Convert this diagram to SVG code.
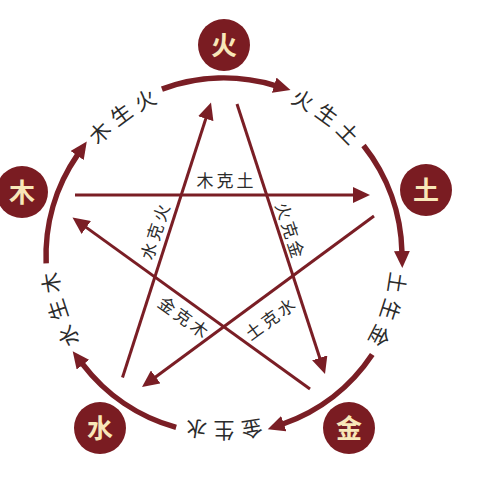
<svg xmlns="http://www.w3.org/2000/svg" width="480" height="480" viewBox="0 0 480 480">
<style>
.arc{fill:none;stroke:#7a1e25;stroke-width:5.5;marker-end:url(#ah)}
.ln{fill:none;stroke:#7a1e25;stroke-width:3;marker-end:url(#ah)}
.node circle{fill:#7a1c22}
.node text{fill:#f8e7b9;font-family:"Noto Sans CJK SC",sans-serif;font-size:26px;font-weight:700;text-anchor:middle}
.al{fill:#2b2b2b;font-family:"Noto Sans CJK SC",sans-serif;font-size:21px;text-anchor:middle}
.sl{fill:#2b2b2b;font-family:"Noto Sans CJK SC",sans-serif;font-size:17px;letter-spacing:3px;text-anchor:middle}
</style>
<defs>
<marker id="ah" markerUnits="userSpaceOnUse" markerWidth="18" markerHeight="16" viewBox="0 0 18 16" refX="1" refY="8" orient="auto">
<path d="M0,0 L17,8 L0,16 Z" fill="#7a1e25"/>
</marker>
</defs>
<rect width="480" height="480" fill="#ffffff"/>
<g id="connectors">
<path class="arc" d="M161.95,89.16 A178,178 0 0 1 275.16,85.51"/>
<path class="arc" d="M363.5,145.44 A178,178 0 0 1 401.95,251.96"/>
<path class="arc" d="M372.26,354.51 A178,178 0 0 1 282.83,424"/>
<path class="arc" d="M176.14,427.45 A178,178 0 0 1 82.4,363.87"/>
<path class="arc" d="M46.16,263.45 A178,178 0 0 1 77.67,154.66"/>
<path class="ln" d="M75,195 L354,195"/>
<path class="ln" d="M237,104 L320.04,358.79"/>
<path class="ln" d="M374,216 L154.88,377.51"/>
<path class="ln" d="M122.5,377.5 L206.1,117.73"/>
<path class="ln" d="M310,389 L85.47,226.87"/>
</g>
<g id="connector-labels">
<text class="al" x="224" y="89" transform="rotate(26.8 224 256)">火</text>
<text class="al" x="224" y="89" transform="rotate(36 224 256)">生</text>
<text class="al" x="224" y="89" transform="rotate(45.2 224 256)">土</text>
<text class="al" x="224" y="89" transform="rotate(98.8 224 256)">土</text>
<text class="al" x="224" y="89" transform="rotate(108 224 256)">生</text>
<text class="al" x="224" y="89" transform="rotate(117.2 224 256)">金</text>
<text class="al" x="224" y="89" transform="rotate(170.8 224 256)">金</text>
<text class="al" x="224" y="89" transform="rotate(180 224 256)">生</text>
<text class="al" x="224" y="89" transform="rotate(189.2 224 256)">水</text>
<text class="al" x="224" y="89" transform="rotate(242.8 224 256)">水</text>
<text class="al" x="224" y="89" transform="rotate(252 224 256)">生</text>
<text class="al" x="224" y="89" transform="rotate(261.2 224 256)">木</text>
<text class="al" x="224" y="89" transform="rotate(314.8 224 256)">木</text>
<text class="al" x="224" y="89" transform="rotate(324 224 256)">生</text>
<text class="al" x="224" y="89" transform="rotate(333.2 224 256)">火</text>
<text class="sl" x="226.5" y="186.5">木克土</text>
<text class="sl" x="156.5" y="238.5" transform="rotate(-72 155 232)">水克火</text>
<text class="sl" x="291.5" y="236.5" transform="rotate(72 290 230)">火克金</text>
<text class="sl" x="184.8" y="323.5" transform="rotate(36 183.3 317)">金克木</text>
<text class="sl" x="271.5" y="325.5" transform="rotate(-36 270 319)">土克水</text>
</g>
<g id="node-huo" class="node"><circle cx="224" cy="45" r="26"/><text x="224" y="55">火</text></g>
<g id="node-tu" class="node"><circle cx="426" cy="190" r="26"/><text x="426" y="200">土</text></g>
<g id="node-jin" class="node"><circle cx="349" cy="428" r="26"/><text x="349" y="438">金</text></g>
<g id="node-shui" class="node"><circle cx="100" cy="428" r="26"/><text x="100" y="438">水</text></g>
<g id="node-mu" class="node"><circle cx="22" cy="192" r="26"/><text x="22" y="202">木</text></g>
</svg>
